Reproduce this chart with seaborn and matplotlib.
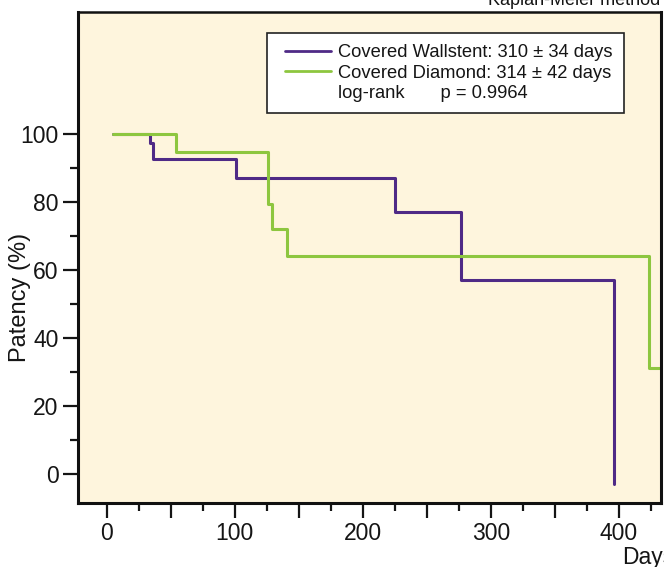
import pandas as pd
import seaborn as sns
import matplotlib.pyplot as plt
from matplotlib.lines import Line2D
from matplotlib.legend_handler import HandlerLine2D
from matplotlib.ticker import MultipleLocator, FixedLocator, FuncFormatter

sns.set_theme(style="white")
plt.rcParams['font.family'] = ['Liberation Sans', 'DejaVu Sans']
plt.rcParams['text.color'] = '#151515'
plt.rcParams['axes.labelcolor'] = '#151515'
plt.rcParams['xtick.color'] = '#151515'
plt.rcParams['ytick.color'] = '#151515'

# Kaplan-Meier steps (days, patency %)
wall_days = [5, 34, 36, 101, 225, 277, 396]
wall_pat = [100, 97.3, 92.6, 87, 77, 57, -3]
diam_days = [5, 54, 126, 129, 141, 424, 440]
diam_pat = [100, 94.7, 79.4, 72, 64.1, 31.2, 31.2]

wall_label = 'Covered Wallstent: 310 \u00b1 34 days'
diam_label = 'Covered Diamond: 314 \u00b1 42 days'
logrank_label = 'log-rank       p = 0.9964'

purple = '#4F2A86'
green = '#8DC63F'

df_wall = pd.DataFrame({'Days': wall_days, 'Patency': wall_pat})
df_diam = pd.DataFrame({'Days': diam_days, 'Patency': diam_pat})


class InsetLine(HandlerLine2D):
    # leave a little gap before the legend line, like the original box
    def create_artists(self, legend, orig_handle, xdescent, ydescent, width, height, fontsize, trans):
        return super().create_artists(legend, orig_handle, xdescent - 5, ydescent,
                                      width - 5, height, fontsize, trans)


fig = plt.figure(figsize=(6.64, 5.67), dpi=100)
ax = fig.add_axes([78/664, 1-503/567, (661-78)/664, (503-12)/567])
ax.set_facecolor('#FEF5DD')

sns.lineplot(data=df_wall, x='Days', y='Patency', drawstyle='steps-post',
             color=purple, linewidth=2.2, estimator=None, ax=ax)
sns.lineplot(data=df_diam, x='Days', y='Patency', drawstyle='steps-post',
             color=green, linewidth=2.2, estimator=None, ax=ax)

ax.set_xlim(-22.5, 433)
ax.set_ylim(-8.5, 136)

ax.xaxis.set_major_locator(MultipleLocator(50))
ax.xaxis.set_minor_locator(FixedLocator([25 + 50*i for i in range(9)]))
ax.xaxis.set_major_formatter(FuncFormatter(lambda v, p: '%d' % v if v % 100 == 0 else ''))
ax.yaxis.set_major_locator(FixedLocator([0, 20, 40, 60, 80, 100]))
ax.yaxis.set_minor_locator(FixedLocator([10, 30, 50, 70, 90]))

ax.tick_params(which='major', direction='out', length=11, width=1.6, labelsize=16.5,
               pad=3, bottom=True, left=True)
ax.tick_params(which='minor', direction='out', length=5.5, width=1.6,
               bottom=True, left=True)

for side in ['left', 'bottom', 'right', 'top']:
    ax.spines[side].set_linewidth(2.2)
    ax.spines[side].set_color('#111111')
ax.spines['top'].set_linewidth(1.8)

ax.set_xlabel('')
ax.set_ylabel('Patency (%)', fontsize=17)
ax.yaxis.set_label_coords((31-78)/583, (503-297)/491)

handles = [Line2D([], [], color=purple, linewidth=2),
           Line2D([], [], color=green, linewidth=2),
           Line2D([], [], color='none')]
leg = ax.legend(handles, [wall_label, diam_label, logrank_label],
                loc='upper left', bbox_to_anchor=((267-78)/583, 1-(33-12)/491),
                fontsize=13.2, frameon=True, fancybox=False, handlelength=2.9,
                handletextpad=0.4, borderpad=0.6, labelspacing=0.2,
                borderaxespad=0, handler_map={Line2D: InsetLine()})
leg.get_frame().set_edgecolor('#222222')
leg.get_frame().set_linewidth(1.2)
leg.get_frame().set_facecolor('white')
leg.get_frame().set_alpha(1)

fig.text(660/664, 1-5/567, 'Kaplan-Meier method', ha='right', va='baseline', fontsize=13)
fig.text(622/664, 1-564/567, 'Days', ha='left', va='baseline', fontsize=16.5)

fig.savefig('out.png', dpi=100)
